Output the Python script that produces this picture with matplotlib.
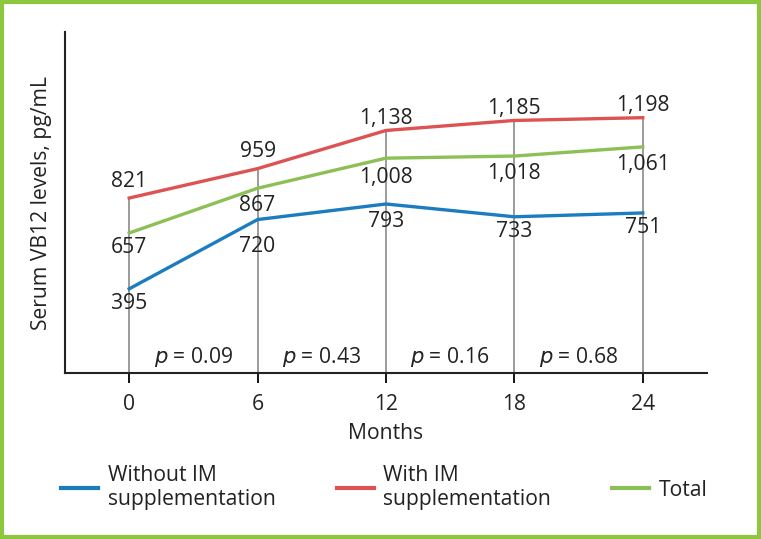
import matplotlib
matplotlib.use("Agg")
import matplotlib.pyplot as plt
from matplotlib.patches import Rectangle
from matplotlib.lines import Line2D

months = [0, 6, 12, 18, 24]
without_im = [395, 720, 793, 733, 751]
with_im = [821, 959, 1138, 1185, 1198]
total = [657, 867, 1008, 1018, 1061]
p_values = ["0.09", "0.43", "0.16", "0.68"]

c_blue = "#1b7cc0"
c_red = "#dd5252"
c_green = "#8cc056"
c_border = "#8dc63f"

plt.rcParams['font.family'] = ['Open Sans', 'DejaVu Sans']

fig = plt.figure(figsize=(7.61, 5.39), dpi=100)
ax = fig.add_axes([0.0854, 0.308, 0.8436, 0.6326])
ax.set_xlim(-3, 27)
ax.set_ylim(0, 1600)

def fmt(v):
    return f"{v:,}"

# vertical guide lines
for m, top in zip(months, with_im):
    ax.plot([m, m], [0, top], color="#8a8a8a", lw=1.2, zorder=1)

ax.plot(months, without_im, color=c_blue, lw=2.4, zorder=3)
ax.plot(months, with_im, color=c_red, lw=2.4, zorder=3)
ax.plot(months, total, color=c_green, lw=2.4, zorder=3)

fs = 15.2
tc = "#222222"
red_off = [4, 5, 1, 1, 1]
green_off = [-3, -5, -6, -5, -5]
blue_off = [-3, -12, -5, -3, -3]
for m, v, o in zip(months, with_im, red_off):
    ax.annotate(fmt(v), (m, v), xytext=(0, o), textcoords="offset points",
                ha="center", va="bottom", fontsize=fs, color=tc)
for m, v, o in zip(months, total, green_off):
    ax.annotate(fmt(v), (m, v), xytext=(0, o), textcoords="offset points",
                ha="center", va="top", fontsize=fs, color=tc)
for m, v, o in zip(months, without_im, blue_off):
    ax.annotate(fmt(v), (m, v), xytext=(0, o), textcoords="offset points",
                ha="center", va="top", fontsize=fs, color=tc)

for i, p in enumerate(p_values):
    xm = (months[i] + months[i + 1]) / 2
    ax.text(xm, 75, r"$\it{p}$ = " + p, ha="center", va="center",
            fontsize=fs, color=tc)

for s in ["top", "right"]:
    ax.spines[s].set_visible(False)
for s in ["left", "bottom"]:
    ax.spines[s].set_linewidth(1.5)
    ax.spines[s].set_color(tc)

ax.set_xticks(months)
ax.set_xticklabels([str(m) for m in months], fontsize=fs, color=tc)
ax.tick_params(axis="x", direction="out", length=7, width=1.3, pad=8)
ax.set_yticks([])
ax.set_xlabel("Months", fontsize=fs, color=tc, labelpad=6)
ax.set_ylabel("Serum VB12 levels, pg/mL", fontsize=fs, color=tc, labelpad=9)

# legend
handles = [Line2D([0], [0], color=c_blue, lw=3),
           Line2D([0], [0], color=c_red, lw=3),
           Line2D([0], [0], color=c_green, lw=3)]
labels = ["Without IM\nsupplementation", "With IM\nsupplementation", "Total"]
leg = fig.legend(handles, labels, loc="center", bbox_to_anchor=(0.505, 0.095),
                 ncol=3, frameon=False, fontsize=fs, handlelength=1.75,
                 handletextpad=0.45, columnspacing=2.9)
for t in leg.get_texts():
    t.set_color(tc)
    t.set_linespacing(1.2)

fig.patches.append(Rectangle((0.0025, 0.003), 0.995, 0.994, transform=fig.transFigure,
                             fill=False, edgecolor=c_border, lw=3))

fig.savefig("out.png", dpi=100)
